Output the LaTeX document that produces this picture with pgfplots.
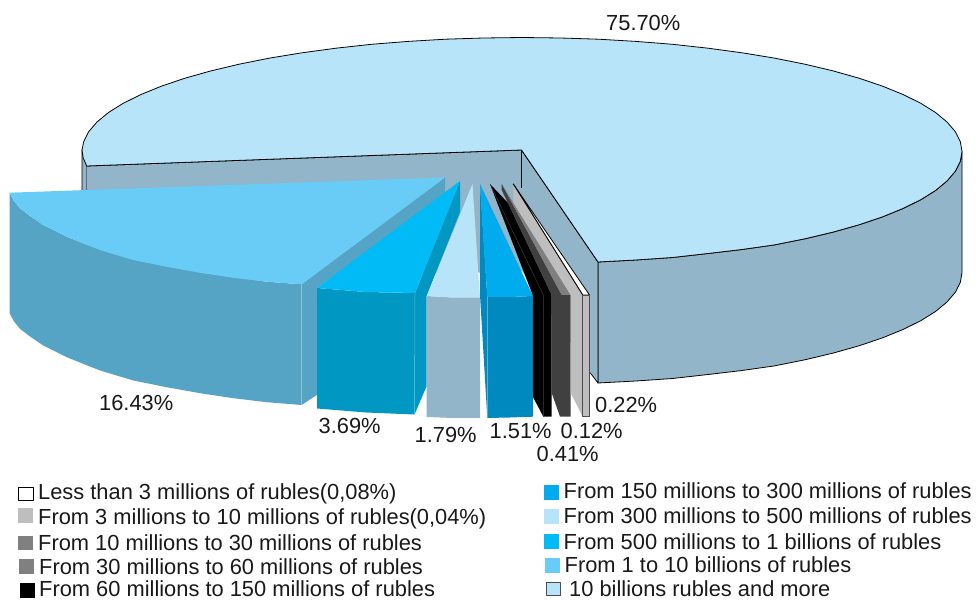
\documentclass[border=0pt]{standalone}
\usepackage{fontspec}
\setmainfont{Liberation Sans}
\usepackage{pgfplots}
\pgfplotsset{compat=1.18}
\definecolor{cTop}{HTML}{B8E4FA}
\definecolor{cWall}{HTML}{92B5C9}
\definecolor{cBigTop}{HTML}{68CCF7}
\definecolor{cBigSide}{HTML}{55A4C6}
\definecolor{cMidTop}{HTML}{00BBF5}
\definecolor{cMidSide}{HTML}{0098C2}
\definecolor{cSmTop}{HTML}{00ACEE}
\definecolor{cSmSide}{HTML}{0089BE}
\definecolor{cDark}{HTML}{404040}
\definecolor{cMed}{HTML}{808080}
\definecolor{cLight}{HTML}{BEBEBE}
\newcommand{\lab}[3]{\node[anchor=base west,inner sep=0pt,text=black!90] at (axis cs:#1,#2) {\fontsize{21.85bp}{24bp}\selectfont #3};}
\begin{document}
\begin{tikzpicture}
\begin{axis}[
  scale only axis, width=976bp, height=600bp,
  xmin=0, xmax=976, ymin=0, ymax=600, y dir=reverse,
  hide axis, clip=false,
  every axis plot/.append style={line join=round},
]
% keeps the full drawing area in the page box
\addplot[draw=none] coordinates {(0,0)(976,600)};
% large slice: outer wall
\addplot[fill=cWall,draw=black,line width=0.8bp] coordinates {(598,262)(635.9,260)(672.5,257.5)(708,253.5)(742,249.5)(774.4,244.9)(804.9,238.8)(833.1,232.1)(859,224.8)(882.4,216.9)(903,208.5)(920.8,199.7)(935.5,190.5)(947,181)(955.3,171.3)(960.3,161.4)(962,151.5)(962,272.5)(960.3,282.4)(955.3,292.3)(947,302)(935.5,311.5)(920.8,320.7)(903,329.5)(882.4,337.9)(859,345.8)(833.1,353.1)(804.9,359.8)(774.4,365.9)(742,370.5)(708,374.5)(672.5,378.5)(635.9,381)(598,383)} --cycle;
% large slice: short left wall
\addplot[fill=cWall,draw=black,line width=0.8bp] coordinates {(82,150)(86.7,166)(86.7,200)(82,200)} --cycle;
% large slice: inner walls
\addplot[fill=cWall,draw=none] coordinates {(86.7,166)(521.5,150)(598,262)(598,383)(522,271)(86.7,287)} --cycle;
\addplot[draw=black,line width=0.8bp] coordinates {(86.7,166)(521.5,150)(598,262)(598,383)(590,372.5)};
\addplot[draw=black,line width=0.8bp] coordinates {(521.5,150)(521.5,188)};
% large slice: top face
\addplot[fill=cTop,draw=black,line width=0.8bp] coordinates {(521.5,150)(598,262)(635.9,260)(672.5,257.5)(708,253.5)(742,249.5)(774.4,244.9)(804.9,238.8)(833.1,232.1)(859,224.8)(882.4,216.9)(903,208.5)(920.8,199.7)(935.5,190.5)(947,181)(955.3,171.3)(960.3,161.4)(962,151.5)(960.3,141.6)(955.3,131.7)(947,122)(935.5,112.5)(920.8,103.3)(903,94.5)(882.4,86.1)(859,78.2)(833.1,70.9)(804.9,64.2)(774.4,58.1)(742,52.8)(708,48.2)(672.5,44.3)(635.9,41.4)(598.4,39.2)(560.4,38)(522,37.5)(483.6,38)(445.6,39.2)(408.1,41.4)(371.5,44.3)(336,48.2)(302,52.8)(269.6,58.1)(239.1,64.2)(210.9,70.9)(185,78.2)(161.6,86.1)(141,94.5)(123.2,103.3)(108.5,112.5)(97,122)(88.7,131.7)(83.7,141.6)(82,150)(83.2,158)(86.7,166)} --cycle;
% 16.43 %
\addplot[fill=cBigSide,draw=none] coordinates {(9.5,192.7)(14,201)(20,208.3)(30,216)(43.3,225)(66.7,236.7)(100,250)(133.3,260)(166.7,266.7)(200,272.7)(233.3,277.7)(266.7,281.7)(301.7,284.3)(301.7,405)(266.7,402.2)(233.3,398.2)(200,393.2)(166.7,387.2)(133.3,380.5)(100,370.5)(66.7,357.2)(43.3,345.5)(30,336.5)(20,328.8)(14,321.5)(9.5,313.2)} --cycle;
\addplot[fill=cBigSide,draw=none] coordinates {(301.7,284.3)(445,177.5)(445,195)(317,288)(317,395)(301.7,405)} --cycle;
\addplot[draw=cBigSide!65!white,line width=0.5bp] coordinates {(301.7,284.3)(301.7,405)};
\addplot[fill=cBigTop,draw=none] coordinates {(445,177.5)(9.5,192.7)(14,201)(20,208.3)(30,216)(43.3,225)(66.7,236.7)(100,250)(133.3,260)(166.7,266.7)(200,272.7)(233.3,277.7)(266.7,281.7)(301.7,284.3)} --cycle;
% 3.69 %
\addplot[fill=cMidSide,draw=none] coordinates {(460,181)(415,293)(414.5,414.5)(426.7,386)(426.7,296)(460,212)} --cycle;
\addplot[fill=cMidSide,draw=none] coordinates {(317,288)(366,292)(415,293)(414.5,414.5)(366,412.5)(317,408.5)} --cycle;
\addplot[draw=cMidSide!65!white,line width=0.5bp] coordinates {(415,293)(414.5,414.5)};
\addplot[fill=cMidTop,draw=none] coordinates {(460,181)(317,288)(366,292)(415,293)} --cycle;
% 1.79 %
\addplot[fill=cWall,draw=none] coordinates {(426.7,296)(453,297.5)(480,297.5)(480,418)(453,418)(426.7,417)} --cycle;
\addplot[fill=cTop,draw=none] coordinates {(472.5,184)(426.7,296)(453,297.5)(480,297.5)(478.3,273)} --cycle;
% 1.51 %
\addplot[fill=cSmSide,draw=none] coordinates {(480,184)(487.3,297)(487.3,418)(480,295)} --cycle;
\addplot[fill=cSmSide,draw=none] coordinates {(487.3,297)(510,297)(533,296)(533,416.7)(510,417.5)(487.3,418)} --cycle;
\addplot[draw=cSmSide!65!white,line width=0.5bp] coordinates {(487.3,297)(487.3,418)};
\addplot[fill=cSmTop,draw=none] coordinates {(480,184)(487.3,297)(510,297)(533,296)} --cycle;
% 0.41 %
\addplot[fill=black,draw=none] coordinates {(490,184)(533,296)(533,397)(543.3,416.7)(551.7,416.7)(551.7,295)(508,203)} --cycle;
\addplot[draw=cDark,line width=0.4bp] coordinates {(490,184)(543.3,295)(543.3,416.7)};
% 0.12 %
\addplot[fill=cDark,draw=none] coordinates {(501.7,184)(501.7,190)(551.7,295)(551.7,393)(560,416.7)(570.7,416.7)(570.7,295)(561.7,295)} --cycle;
\addplot[fill=cMed,draw=none] coordinates {(501.7,184)(561.7,295)(570.7,295)} --cycle;
% 0.22 %
\addplot[fill=white,draw=black,line width=0.8bp] coordinates {(513.3,184)(582.7,295)(589.5,295)} --cycle;
\addplot[fill=cLight,draw=none] coordinates {(513.3,184)(513.3,202.6)(570.7,295)(570.7,393)(582.7,416.7)(582.7,295)} --cycle;
\addplot[draw=black,line width=0.8bp] coordinates {(513.3,184)(582.7,295)};
\addplot[fill=cLight,draw=black!70,line width=0.8bp] coordinates {(582.7,295)(589.5,295)(589.5,416.7)(582.7,416.7)} --cycle;
% legend swatches
\addplot[fill=white,draw=black,line width=0.6bp] coordinates {(18.5,487)(33,487)(33,500)(18.5,500)} --cycle;
\addplot[fill=cLight,draw=none] coordinates {(18,508)(33,508)(33,523)(18,523)} --cycle;
\addplot[fill=cMed,draw=none] coordinates {(18,536)(33,536)(33,550)(18,550)} --cycle;
\addplot[fill=cMed,draw=none] coordinates {(19,559)(34,559)(34,574)(19,574)} --cycle;
\addplot[fill=black,draw=none] coordinates {(20,583)(35,583)(35,598)(20,598)} --cycle;
\addplot[fill=cSmTop,draw=none] coordinates {(544,485)(559,485)(559,500)(544,500)} --cycle;
\addplot[fill=cTop,draw=none] coordinates {(544,509)(559,509)(559,524)(544,524)} --cycle;
\addplot[fill=cMidTop,draw=none] coordinates {(544,534)(559,534)(559,549)(544,549)} --cycle;
\addplot[fill=cBigTop,draw=none] coordinates {(545,558)(560,558)(560,573)(545,573)} --cycle;
\addplot[fill=cTop,draw=black!70,line width=0.9bp] coordinates {(546.5,582.5)(560,582.5)(560,595.5)(546.5,595.5)} --cycle;
% value labels
\lab{606}{30.5}{75.70\%}
\lab{99}{411}{16.43\%}
\lab{318.5}{433.7}{3.69\%}
\lab{414.5}{442.7}{1.79\%}
\lab{489.5}{438.5}{1.51\%}
\lab{560.5}{438.5}{0.12\%}
\lab{536.5}{462}{0.41\%}
\lab{595}{412.5}{0.22\%}
% legend entries
\lab{38}{500}{Less than 3 millions of rubles(0,08\%)}
\lab{38}{524.5}{From 3 millions to 10 millions of rubles(0,04\%)}
\lab{38}{551}{From 10 millions to 30 millions of rubles}
\lab{39}{575}{From 30 millions to 60 millions of rubles}
\lab{39}{597}{From 60 millions to 150 millions of rubles}
\lab{563.5}{499}{From 150 millions to 300 millions of rubles}
\lab{563.5}{523.5}{From 300 millions to 500 millions of rubles}
\lab{563.5}{550}{From 500 millions to 1 billions of rubles}
\lab{564.5}{573}{From 1 to 10 billions of rubles}
\lab{569}{596.5}{10 billions rubles and more}
\end{axis}
\end{tikzpicture}
\end{document}
